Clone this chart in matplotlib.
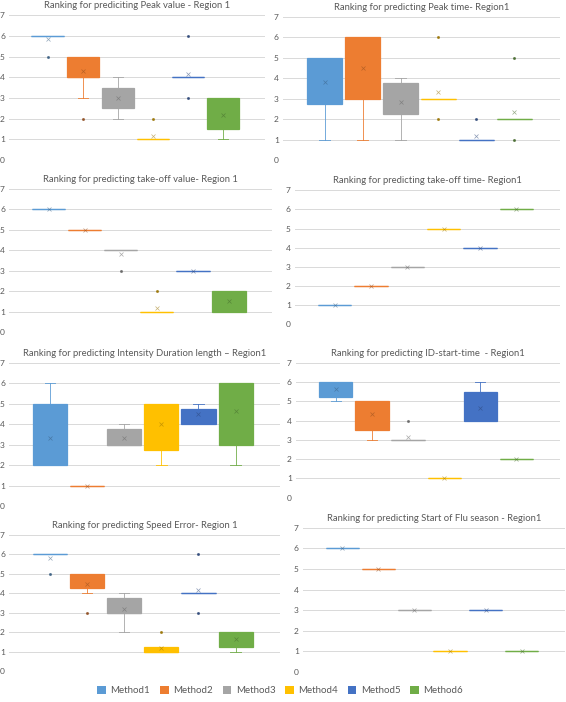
import numpy as np
import matplotlib.pyplot as plt
from matplotlib.patches import Patch
from matplotlib.colors import to_rgb

plt.rcParams['font.family'] = ['Lato', 'DejaVu Sans']

methods = ['Method1', 'Method2', 'Method3', 'Method4', 'Method5', 'Method6']
colors = ['#5B9BD5', '#ED7D31', '#A5A5A5', '#FFC000', '#4472C4', '#70AD47']

titles = [
    'Ranking for prediciting Peak value - Region 1',
    'Ranking for predicting Peak time- Region1',
    'Ranking for predicting take-off value- Region 1',
    'Ranking for predicting take-off time- Region1',
    'Ranking for predicting Intensity Duration length \u2013 Region1',
    'Ranking for predicting ID-start-time  - Region1',
    'Ranking for predicting Speed Error- Region 1',
    'Ranking for predicting Start of Flu season - Region1',
]

# one row per chart, one value per method
q1 = [
    [6, 4, 2.5, 1, 4, 1.5],
    [2.75, 3, 2.25, 3, 1, 2],
    [6, 5, 4, 1, 3, 1],
    [1, 2, 3, 5, 4, 6],
    [2, 1, 3, 2.75, 4, 3],
    [5.25, 3.5, 3, 1, 4, 2],
    [6, 4.25, 3, 1, 4, 1.25],
    [6, 5, 3, 1, 3, 1],
]
q3 = [
    [6, 5, 3.5, 1, 4, 3],
    [5, 6, 3.75, 3, 1, 2],
    [6, 5, 4, 1, 3, 2],
    [1, 2, 3, 5, 4, 6],
    [5, 1, 3.75, 5, 4.75, 6],
    [6, 5, 3, 1, 5.5, 2],
    [6, 5, 3.75, 1.25, 4, 2],
    [6, 5, 3, 1, 3, 1],
]
medians = [
    [6, 4, 3, 1, 4, 2],
    [4, 4, 3, 3, 1, 2],
    [6, 5, 4, 1, 3, 1.5],
    [1, 2, 3, 5, 4, 6],
    [3, 1, 3, 4.5, 4.5, 5],
    [5.5, 4.5, 3, 1, 4.5, 2],
    [6, 4.5, 3, 1, 4, 1.5],
    [6, 5, 3, 1, 3, 1],
]
whisk_low = [
    [6, 3, 2, 1, 4, 1],
    [1, 1, 1, 3, 1, 2],
    [6, 5, 4, 1, 3, 1],
    [1, 2, 3, 5, 4, 6],
    [2, 1, 3, 2, 4, 2],
    [5, 3, 3, 1, 4, 2],
    [6, 4, 2, 1, 4, 1],
    [6, 5, 3, 1, 3, 1],
]
whisk_high = [
    [6, 5, 4, 1, 4, 3],
    [5, 6, 4, 3, 1, 2],
    [6, 5, 4, 1, 3, 2],
    [1, 2, 3, 5, 4, 6],
    [6, 1, 4, 5, 5, 6],
    [6, 5, 3, 1, 6, 2],
    [6, 5, 4, 1.25, 4, 2],
    [6, 5, 3, 1, 3, 1],
]
means = [
    [5.85, 4.3, 3.0, 1.17, 4.15, 2.2],
    [3.8, 4.5, 2.85, 3.33, 1.17, 2.33],
    [6, 5, 3.83, 1.17, 3, 1.5],
    [1, 2, 3, 5, 4, 6],
    [3.33, 1, 3.33, 4.0, 4.5, 4.67],
    [5.67, 4.33, 3.17, 1, 4.67, 2],
    [5.83, 4.5, 3.17, 1.17, 4.17, 1.67],
    [6, 5, 3, 1, 3, 1],
]
outliers = [
    [[5], [2], [], [2], [6, 3], []],
    [[], [], [], [6, 2], [2], [5, 1]],
    [[], [], [3], [2], [], []],
    [[], [], [], [], [], []],
    [[], [], [], [], [], []],
    [[], [], [4], [], [], []],
    [[5], [3], [], [2], [6, 3], []],
    [[], [], [], [], [], []],
]

# axes rectangles in figure coordinates (left, bottom, width, height)
rects = [
    [0.016, 0.772, 0.452, 0.206],
    [0.500, 0.772, 0.489, 0.204],
    [0.016, 0.527, 0.465, 0.204],
    [0.521, 0.538, 0.468, 0.191],
    [0.016, 0.279, 0.479, 0.204],
    [0.523, 0.291, 0.466, 0.192],
    [0.016, 0.044, 0.479, 0.194],
    [0.535, 0.043, 0.463, 0.205],
]

fig = plt.figure(figsize=(5.66, 7.02), dpi=100)

for k in range(8):
    ax = fig.add_axes(rects[k])
    for i in range(6):
        c = colors[i]
        dark = tuple(v * 0.6 for v in to_rgb(c))
        st = dict(med=medians[k][i], q1=q1[k][i], q3=q3[k][i],
                  whislo=whisk_low[k][i], whishi=whisk_high[k][i],
                  mean=means[k][i], fliers=outliers[k][i])
        ax.bxp([st], positions=[i + 1], widths=0.92, capwidths=0.28,
               patch_artist=True, showmeans=True,
               boxprops=dict(facecolor=c, edgecolor=c, linewidth=0.9),
               medianprops=dict(color=c, linewidth=0.9),
               whiskerprops=dict(color=c, linewidth=0.7, alpha=0.85),
               capprops=dict(color=c, linewidth=0.7, alpha=0.85),
               meanprops=dict(marker='x', markersize=2.3, markeredgecolor=dark,
                              markeredgewidth=0.5, alpha=0.55),
               flierprops=dict(marker='o', markersize=1.2, markerfacecolor=dark,
                               markeredgecolor=dark, alpha=0.75))
    ax.set_xlim(-0.1, 7.2)
    ax.set_ylim(0, 7)
    ax.set_yticks(range(8))
    ax.set_xticks([])
    ax.yaxis.grid(True, color='#D9D9D9', linewidth=0.7)
    ax.set_axisbelow(True)
    for s in ax.spines.values():
        s.set_visible(False)
    ax.tick_params(axis='y', length=0, pad=3, labelsize=6, labelcolor='#595959')
    ax.set_title(titles[k], fontsize=6.8, color='#595959', pad=5)

handles = [Patch(facecolor=colors[i], label=methods[i]) for i in range(6)]
fig.legend(handles=handles, loc='lower center', bbox_to_anchor=(0.495, -0.003),
           ncol=6, frameon=False, fontsize=7, handlelength=0.9, handleheight=0.9,
           columnspacing=1.0, handletextpad=0.45, labelcolor='#595959')

fig.savefig('out.png', dpi=100)
